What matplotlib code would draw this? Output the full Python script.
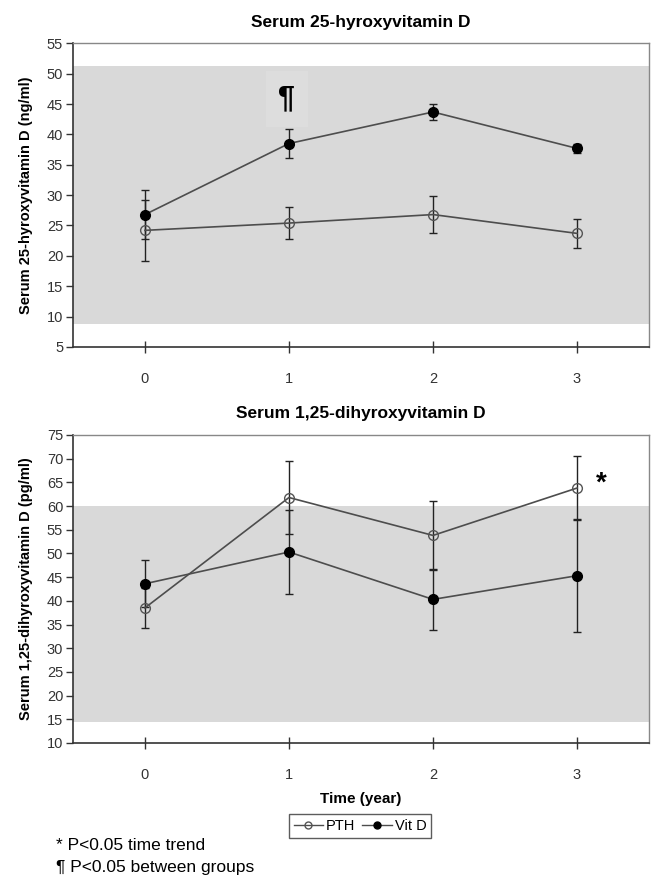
import matplotlib
matplotlib.use('Agg')
import matplotlib.pyplot as plt
from matplotlib.lines import Line2D

plt.rcParams['font.family'] = ['Liberation Sans', 'DejaVu Sans']

# ==================== data ====================
years = [0, 1, 2, 3]
xtick_labels = ['0', '1', '2', '3']

# Serum 25-hydroxyvitamin D (ng/ml)
d25_pth = [24.2, 25.4, 26.8, 23.7]
d25_pth_err = [5.0, 2.7, 3.1, 2.4]
d25_vitd = [26.8, 38.5, 43.7, 37.7]
d25_vitd_err = [4.0, 2.4, 1.3, 0.8]
d25_range = [8.7, 51.2]          # gray reference band
d25_yticks = list(range(5, 56, 5))

# Serum 1,25-dihydroxyvitamin D (pg/ml)
d125_pth = [38.5, 61.8, 53.8, 63.8]
d125_pth_err = [4.2, 7.7, 7.2, 6.7]
d125_vitd = [43.6, 50.3, 40.3, 45.3]
d125_vitd_err = [5.0, 8.8, 6.5, 11.9]
d125_range = [14.5, 60.0]
d125_yticks = list(range(10, 76, 5))

band_color = '#d9d9d9'
line_color = '#4d4d4d'


def draw_panel(ax, pth, pth_err, vitd, vitd_err, band, yticks, title, ylabel):
    ax.axhspan(band[0], band[1], color=band_color, zorder=0, lw=0)
    ax.errorbar(years, pth, yerr=pth_err, fmt='-o', color=line_color, ecolor='#222222',
                elinewidth=1, capsize=3, capthick=1, mfc='none', mec='#555555',
                ms=7, mew=1, lw=1.2, zorder=3, label='PTH')
    ax.errorbar(years, vitd, yerr=vitd_err, fmt='-o', color=line_color, ecolor='#222222',
                elinewidth=1, capsize=3, capthick=1, mfc='black', mec='black',
                ms=7, lw=1.2, zorder=3, label='Vit D')
    ax.set_xlim(-0.5, 3.5)
    ax.set_ylim(yticks[0], yticks[-1])
    ax.set_yticks(yticks)
    ax.set_xticks(years)
    ax.set_xticklabels(xtick_labels)
    ax.tick_params(axis='y', direction='out', length=5, width=1, labelsize=10.5,
                   pad=2, colors='#333333')
    ax.tick_params(axis='x', direction='inout', length=8, width=1, labelsize=10.5,
                   pad=14, colors='#333333')
    for s in ['left', 'bottom']:
        ax.spines[s].set_color('#333333')
        ax.spines[s].set_linewidth(1.2)
    for s in ['top', 'right']:
        ax.spines[s].set_color('#888888')
        ax.spines[s].set_linewidth(1)
    ax.set_title(title, fontsize=12.5, fontweight='bold', pad=12)
    ax.set_ylabel(ylabel, fontsize=10.5, fontweight='bold', labelpad=10)


fig = plt.figure(figsize=(6.51, 8.85), dpi=100)
ax1 = fig.add_axes([0.112, 0.608, 0.885, 0.343])
ax2 = fig.add_axes([0.112, 0.1605, 0.885, 0.348])

draw_panel(ax1, d25_pth, d25_pth_err, d25_vitd, d25_vitd_err, d25_range, d25_yticks,
           'Serum 25-hyroxyvitamin D', 'Serum 25-hyroxyvitamin D (ng/ml)')
draw_panel(ax2, d125_pth, d125_pth_err, d125_vitd, d125_vitd_err, d125_range, d125_yticks,
           'Serum 1,25-dihyroxyvitamin D', 'Serum 1,25-dihyroxyvitamin D (pg/ml)')

# significance marks
ax1.text(0.985, 45.8, '¶', ha='center', va='center', fontsize=22, fontweight='bold',
         bbox=dict(boxstyle='square,pad=0.42', facecolor='#dddddd', edgecolor='none'))
ax2.text(3.17, 64.8, '*', ha='center', va='center', fontsize=20, fontweight='bold')

ax2.set_xlabel('Time (year)', fontsize=11, fontweight='bold', labelpad=7)

handles = [Line2D([], [], color=line_color, marker='o', mfc='none', mec='#555555', ms=5, lw=1),
           Line2D([], [], color=line_color, marker='o', mfc='black', mec='black', ms=5, lw=1)]
fig.legend(handles, ['PTH', 'Vit D'], loc='center', bbox_to_anchor=(0.553, 0.067), ncol=2,
           fontsize=10.5, frameon=True, fancybox=False, edgecolor='#333333',
           handlelength=2.0, handletextpad=0.2, columnspacing=0.5, borderpad=0.35)

fig.text(0.086, 0.045, '* P<0.05 time trend', fontsize=12.5, va='center')
fig.text(0.086, 0.020, '¶ P<0.05 between groups', fontsize=12.5, va='center')

fig.savefig('out.png', dpi=100)
